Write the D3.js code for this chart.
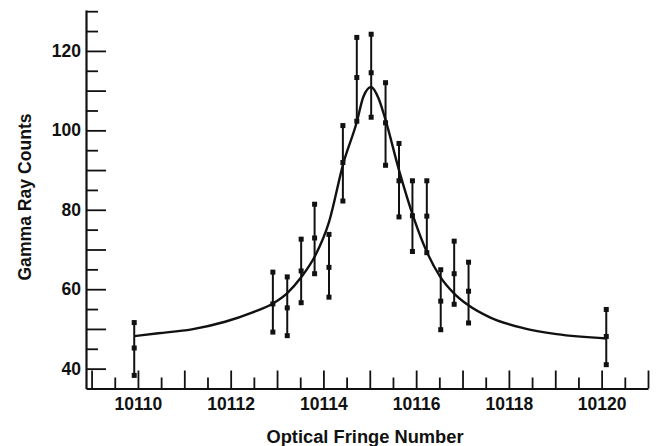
<!DOCTYPE html>
<html>
<head>
<meta charset="utf-8">
<script src="https://cdn.jsdelivr.net/npm/d3@7"></script>
<style>
  html, body { margin: 0; padding: 0; background: #fff; }
  svg { display: block; }
  text { font-family: "Liberation Sans", Arial, Helvetica, sans-serif; font-weight: bold; fill: #111; }
</style>
</head>
<body>
<svg id="chart" width="660" height="446"></svg>
<script>
// ---- data ----
const fringe = [10109.92, 10112.91, 10113.22, 10113.52, 10113.81, 10114.12, 10114.42, 10114.72, 10115.03,
                10115.34, 10115.63, 10115.92, 10116.23, 10116.53, 10116.82, 10117.13, 10120.10];
const counts = [45.2, 56.3, 55.3, 64.6, 72.9, 65.5, 91.9, 113.3, 114.5,
                101.9, 87.3, 78.5, 78.4, 57.0, 63.9, 59.5, 48.1];
const upper  = [51.6, 64.3, 63.1, 72.6, 81.4, 73.8, 101.2, 123.4, 124.2,
                112.0, 96.7, 87.3, 87.3, 64.9, 72.1, 66.8, 54.9];
const lower  = [38.3, 49.2, 48.3, 56.6, 63.9, 58.0, 82.2, 102.3, 103.3,
                91.2, 78.2, 69.5, 69.2, 49.8, 56.2, 51.5, 41.0];

// fitted curve, read point by point
const fitX = [10109.92, 10110.44, 10111.16, 10111.88, 10112.46, 10112.91, 10113.21, 10113.52, 10113.83,
              10114.12, 10114.43, 10114.72, 10114.86, 10115.03, 10115.19, 10115.33, 10115.63, 10115.94,
              10116.23, 10116.52, 10116.82, 10117.12, 10117.59, 10118.31, 10119.03, 10120.11];
const fitY = [48.2, 48.9, 49.9, 51.8, 54.1, 56.4, 58.9, 63.0, 68.6,
              76.9, 91.7, 102.1, 108.4, 110.9, 108.0, 103.0, 90.0, 78.2,
              69.4, 63.1, 58.9, 56.0, 52.9, 50.2, 48.7, 47.6];

// ticks
const xLabelTicks = [10110, 10112, 10114, 10116, 10118, 10120];
const xLongTicks  = [10109, 10110, 10111, 10112, 10113, 10114, 10115, 10116, 10117, 10118, 10119, 10120, 10121];
const xShortTicks = [10109.5, 10110.5, 10111.5, 10112.5, 10113.5, 10114.5, 10115.5, 10116.5, 10117.5,
                     10118.5, 10119.5, 10120.5];
const yLabelTicks = [40, 60, 80, 100, 120];
const yLongTicks  = [40, 50, 60, 70, 80, 90, 100, 110, 120];
const yShortTicks = [45, 55, 65, 75, 85, 95, 105, 115, 125, 130];

const xTitle = "Optical Fringe Number";
const yTitle = "Gamma Ray Counts";

// ---- drawing ----
const svg = d3.select("#chart");
const x = d3.scaleLinear().domain([10108.88, 10121]).range([86, 648]);
const y = d3.scaleLinear().domain([35, 130.3]).range([388.5, 10]);

const axisColor = "#111";

// x axis: long ticks with labels on even numbers
const gx = svg.append("g").attr("transform", `translate(0,${y(35)})`);
gx.call(d3.axisBottom(x).tickValues(xLongTicks).tickSizeInner(-18).tickSizeOuter(0).tickPadding(9)
  .tickFormat(d => xLabelTicks.includes(d) ? d3.format("d")(d) : ""));
const gx2 = svg.append("g").attr("transform", `translate(0,${y(35)})`);
gx2.call(d3.axisBottom(x).tickValues(xShortTicks).tickSizeInner(-11).tickSizeOuter(0).tickFormat(""));
gx2.select(".domain").remove();

// y axis
const gy = svg.append("g").attr("transform", `translate(${x(10108.88)},0)`);
gy.call(d3.axisLeft(y).tickValues(yLongTicks).tickSizeInner(-20).tickSizeOuter(0).tickPadding(5)
  .tickFormat(d => yLabelTicks.includes(d) ? d3.format("d")(d) : ""));
const gy2 = svg.append("g").attr("transform", `translate(${x(10108.88)},0)`);
gy2.call(d3.axisLeft(y).tickValues(yShortTicks).tickSizeInner(-12).tickSizeOuter(0).tickFormat(""));
gy2.select(".domain").remove();

[gx, gx2, gy, gy2].forEach(g => {
  g.attr("font-size", null).attr("font-family", null);
  g.selectAll(".domain").attr("stroke", axisColor).attr("stroke-width", 2.2);
  g.selectAll(".tick line").attr("stroke", axisColor).attr("stroke-width", 1.8);
  g.selectAll(".tick text").style("font-family", '"Liberation Sans", Arial, sans-serif')
    .style("font-weight", "bold").style("font-size", "17.5px").attr("fill", "#111");
});

// axis titles
svg.append("text").attr("x", 365).attr("y", 443).attr("text-anchor", "middle")
  .style("font-size", "18.3px").text(xTitle);
svg.append("text").attr("transform", "translate(30.5,197) rotate(-90)").attr("text-anchor", "middle")
  .style("font-size", "17.6px").text(yTitle);

// fitted curve
const pts = fitX.map((d, i) => [d, fitY[i]]);
svg.append("path").datum(pts)
  .attr("fill", "none").attr("stroke", "#111").attr("stroke-width", 2.4)
  .attr("d", d3.line().x(d => x(d[0])).y(d => y(d[1])).curve(d3.curveMonotoneX));

// error bars
const data = fringe.map((f, i) => ({ f, c: counts[i], hi: upper[i], lo: lower[i] }));
const g = svg.append("g");
const sq = 5;
g.selectAll("line.err").data(data).join("line")
  .attr("x1", d => x(d.f)).attr("x2", d => x(d.f))
  .attr("y1", d => y(d.hi)).attr("y2", d => y(d.lo))
  .attr("stroke", "#111").attr("stroke-width", 2);
["hi", "c", "lo"].forEach(k => {
  g.selectAll("rect." + k).data(data).join("rect")
    .attr("x", d => x(d.f) - sq / 2).attr("y", d => y(d[k]) - sq / 2)
    .attr("width", sq).attr("height", sq).attr("fill", "#111");
});
</script>
</body>
</html>
